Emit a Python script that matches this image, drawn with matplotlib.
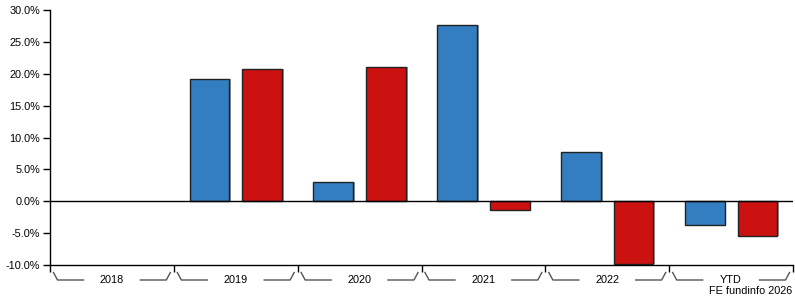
import numpy as np
import matplotlib.pyplot as plt
from matplotlib.lines import Line2D

categories = ["2018", "2019", "2020", "2021", "2022", "YTD"]
fund = [np.nan, 19.2, 3.0, 27.6, 7.8, -3.8]
sector = [np.nan, 20.8, 21.0, -1.4, -9.8, -5.4]
yticks = [-10, -5, 0, 5, 10, 15, 20, 25, 30]

blue = "#337ec0"
red = "#cc1111"

plt.rcParams['font.family'] = ['Liberation Sans', 'DejaVu Sans']

fig = plt.figure(figsize=(7.95, 3.0), dpi=100)
W, H = 795.0, 300.0
ax = fig.add_axes([50 / W, 1 - 265 / H, 743 / W, 255 / H])

x = np.arange(len(categories))
bw = 0.32
off = 0.213
# faint shadow behind each bar
for xs, vals in ((x - off, fund), (x + off, sector)):
    ax.bar(xs + 0.015, vals, bw, color="#999999", edgecolor="none", zorder=1)
ax.bar(x - off, fund, bw, color=blue, edgecolor="#222222", linewidth=1.0, zorder=2)
ax.bar(x + off, sector, bw, color=red, edgecolor="#222222", linewidth=1.0, zorder=2)

ax.axhline(0, color="black", linewidth=1.0, zorder=3)
ax.set_xlim(-0.5, len(categories) - 0.5)
ax.set_ylim(-10, 30)
ax.set_yticks(yticks)
ax.set_yticklabels(["%.1f%%" % v for v in yticks], fontsize=7.8)
ax.tick_params(axis="y", length=5, width=1, pad=2, color="black")
ax.set_xticks(np.arange(len(categories) + 1) - 0.5)
ax.set_xticklabels([])
ax.tick_params(axis="x", length=5, width=1, color="black")
for s in ("top", "right"):
    ax.spines[s].set_visible(False)
for s in ("left", "bottom"):
    ax.spines[s].set_linewidth(1.0)
    ax.spines[s].set_color("black")

# category labels with bracket decorations (pixel offsets from category edges)
cw = 743 / len(categories)
for i, lab in enumerate(categories):
    x0 = 50 + i * cw
    xc = x0 + cw / 2
    segs = [
        [(x0 + 3.5, 272.5), (x0 + 7.5, 280), (x0 + 33.5, 280)],
        [(x0 + cw - 33.5, 280), (x0 + cw - 7.5, 280), (x0 + cw - 3.5, 272.5)],
    ]
    for seg in segs:
        xs = [p[0] / W for p in seg]
        ys = [1 - p[1] / H for p in seg]
        fig.add_artist(Line2D(xs, ys, color="#555555", linewidth=1.0))
    fig.text(xc / W, 1 - 280 / H, lab, ha="center", va="center", fontsize=7.8)

fig.text(792 / W, 1 - 291.5 / H, "FE fundinfo 2026", ha="right", va="center", fontsize=7.8)

fig.savefig("out.png", dpi=100)
